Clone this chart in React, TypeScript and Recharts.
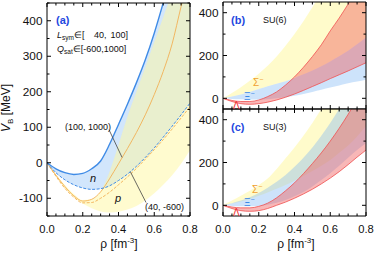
import React from 'react';
import { ComposedChart, Area, Line, XAxis, YAxis, ReferenceLine } from 'recharts';

// ---------- data ----------
const rho = [0, 0.05, 0.1, 0.15, 0.2, 0.25, 0.3, 0.35, 0.4, 0.45, 0.5, 0.55, 0.6, 0.65, 0.7, 0.75, 0.8];

// panel (a): nucleon potentials
const nUpper = [0, -17, -28, -33, -30, -17, 5, 52, 108, 165, 225, 290, 365, 450, 540, 635, 735];
const nLower = [0, -28, -48, -62, -71, -75, -73, -65, -50, -32, -10, 15, 42, 72, 103, 135, 168];
const pUpper = [0, -33, -63, -88, -105, -103, -80, -25, 50, 130, 200, 270, 340, 410, 480, 550, 620];
const pLower = [0, -38, -72, -97, -115, -128, -137, -140, -138, -132, -122, -106, -86, -62, -35, -3, 35];
const pSolid = [0, -35, -67, -93, -108, -103, -82, -45, -3, 40, 85, 135, 192, 257, 335, 440, 540];
const pDash = [0, -38, -72, -97, -113, -112, -100, -83, -62, -40, -16, 10, 37, 65, 95, 126, 158];

// panel (b): SU(6)
const sigUpB = [0, 25, 52, 82, 115, 152, 195, 245, 300, 360, 425, 495, 570, 650, 730, 810, 890];
const xiUpB = [0, 8, 18, 30, 43, 56, 68, 80, 95, 112, 130, 150, 172, 196, 222, 252, 284];
const xiLoB = [0, -3, -5, -6, -6, -4, 0, 5, 12, 20, 30, 40, 50, 60, 70, 78, 87];
const lamUpB = [0, -10, -15, -15, -8, 8, 30, 62, 100, 145, 195, 250, 315, 375, 440, 505, 575];
const lamLoB = [0, -15, -25, -28, -25, -18, -8, 5, 20, 37, 55, 73, 92, 110, 128, 147, 166];

// panel (c): SU(3)
const sigUpC = [0, 22, 45, 68, 95, 125, 170, 220, 270, 325, 385, 450, 520, 600, 680, 760, 840];
const sigLoC = [0, 8, 18, 30, 45, 60, 77, 95, 115, 137, 160, 185, 212, 245, 280, 322, 370];
const xiUpC = [0, 10, 22, 38, 58, 82, 110, 142, 180, 222, 270, 325, 385, 450, 520, 590, 660];
const xiLoC = [0, -3, -5, -5, -3, 3, 12, 25, 42, 62, 88, 118, 150, 185, 222, 258, 290];
const lamUpC = [0, -8, -12, -12, -5, 10, 35, 68, 105, 148, 195, 245, 300, 360, 425, 495, 570];
const lamLoC = [0, -15, -25, -28, -25, -15, 0, 15, 33, 53, 75, 100, 127, 157, 190, 225, 258];

const xTicks = [0, 0.05, 0.1, 0.15, 0.2, 0.25, 0.3, 0.35, 0.4, 0.45, 0.5, 0.55, 0.6, 0.65, 0.7, 0.75, 0.8];
const yTicksA = [-150, -100, -50, 0, 50, 100, 150, 200, 250, 300, 350, 400, 450];
const yTicksBC = [0, 100, 200, 300, 400];

const dataA = rho.map((r, i) => ({
  rho: r,
  nBand: [nLower[i], nUpper[i]],
  pBand: [pLower[i], pUpper[i]],
  nUp: nUpper[i],
  nLo: nLower[i],
  pSolid: pSolid[i],
  pDash: pDash[i],
}));
const dataB = rho.map((r, i) => ({
  rho: r,
  sig: [xiUpB[i], sigUpB[i]],
  xi: [xiLoB[i], xiUpB[i]],
  lam: [lamLoB[i], lamUpB[i]],
  lamUp: lamUpB[i],
  lamLo: lamLoB[i],
}));
const dataC = rho.map((r, i) => ({
  rho: r,
  sig: [sigLoC[i], sigUpC[i]],
  xi: [xiLoC[i], xiUpC[i]],
  lam: [lamLoC[i], lamUpC[i]],
  lamUp: lamUpC[i],
  lamLo: lamLoC[i],
}));

// ---------- layout ----------
const W = 374;
const H = 253;
const FONT = '"Liberation Sans", Arial, Helvetica, sans-serif';
const A = { l: 47, r: 190, t: 3, b: 216 };
const B = { l: 223, r: 366, t: 2, b: 109 };
const C = { l: 223, r: 366, t: 109, b: 216 };
const AX = 2; // axis thickness reserved

const isMajor = (v: number, step: number) => Math.abs(v / step - Math.round(v / step)) < 1e-6;

function xTick(axisY: number, up: boolean, labels: boolean) {
  return (p: any) => {
    const v = p.payload.value;
    const x = p.x;
    const major = isMajor(v, 0.2);
    const len = major ? 4 : 2.5;
    const s = up ? -1 : 1;
    return (
      <g>
        <line x1={x} x2={x} y1={axisY} y2={axisY + s * len} stroke="#000" strokeWidth={1} />
        {labels && major ? (
          <text x={x} y={axisY + 17} textAnchor="middle" fontSize={11.2} fontFamily={FONT} fill="#111">
            {v.toFixed(1)}
          </text>
        ) : null}
      </g>
    );
  };
}

function yTick(axisX: number, right: boolean, labels: boolean, step: number) {
  return (p: any) => {
    const v = p.payload.value;
    const y = p.y;
    const major = isMajor(v, step);
    const len = major ? 4 : 2.5;
    const s = right ? 1 : -1;
    return (
      <g>
        <line x1={axisX} x2={axisX + s * len} y1={y} y2={y} stroke="#000" strokeWidth={1} />
        {labels && major ? (
          <text x={axisX - 4.5} y={y + 4.2} textAnchor="end" fontSize={11.8} fontFamily={FONT} fill="#111">
            {String(v)}
          </text>
        ) : null}
      </g>
    );
  };
}

const chartStyle: React.CSSProperties = { position: 'absolute', left: 0, top: 0 };

function axes(box: { l: number; r: number; t: number; b: number }, domain: [number, number], yTicks: number[], yStep: number, xLabels: boolean) {
  return [
    <XAxis key="xb" xAxisId="bottom" orientation="bottom" dataKey="rho" type="number" domain={[0, 0.8]} allowDataOverflow ticks={xTicks} interval={0} height={AX} tickSize={0} tickMargin={0} tickLine={false} axisLine={{ stroke: '#000' }} tick={xTick(box.b, true, xLabels)} />,
    <XAxis key="xt" xAxisId="top" orientation="top" dataKey="rho" type="number" domain={[0, 0.8]} allowDataOverflow ticks={xTicks} interval={0} height={AX} tickSize={0} tickMargin={0} tickLine={false} axisLine={{ stroke: '#000' }} tick={xTick(box.t, false, false)} />,
    <YAxis key="yl" yAxisId="left" orientation="left" type="number" domain={domain} allowDataOverflow ticks={yTicks} interval={0} width={AX} tickSize={0} tickMargin={0} tickLine={false} axisLine={{ stroke: '#000' }} tick={yTick(box.l, true, true, yStep)} />,
    <YAxis key="yr" yAxisId="right" orientation="right" type="number" domain={domain} allowDataOverflow ticks={yTicks} interval={0} width={AX} tickSize={0} tickMargin={0} tickLine={false} axisLine={{ stroke: '#000' }} tick={yTick(box.r, false, false, yStep)} />,
  ];
}

const margins = (box: { l: number; r: number; t: number; b: number }) => ({
  top: box.t - AX,
  left: box.l - AX,
  right: W - box.r - AX,
  bottom: H - box.b - AX,
});

const BLUE_FILL = '#7cb6f5';
const YEL_FILL = '#fff7a0';
const RED_FILL = '#f06060';
const ids = { xAxisId: 'bottom', yAxisId: 'left' };

export default function App() {
  return (
    <div style={{ position: 'absolute', left: 0, top: 0, width: W, height: H, background: '#fff', overflow: 'hidden' }}>
      {/* Panel (a) */}
      <ComposedChart width={W} height={H} data={dataA} style={chartStyle} margin={margins(A)}>
        {axes(A, [-150, 450], yTicksA, 100, true)}
        <Area {...ids} dataKey="nBand" type="monotone" stroke="none" fill={BLUE_FILL} fillOpacity={0.34} isAnimationActive={false} activeDot={false} />
        <Area {...ids} dataKey="pBand" type="monotone" stroke="none" fill={YEL_FILL} fillOpacity={0.5} isAnimationActive={false} activeDot={false} />
        <Line {...ids} dataKey="pSolid" type="monotone" stroke="#f2b055" strokeWidth={0.9} dot={false} isAnimationActive={false} activeDot={false} />
        <Line {...ids} dataKey="pDash" type="monotone" stroke="#f2b055" strokeWidth={0.9} strokeDasharray="3 1.5" dot={false} isAnimationActive={false} activeDot={false} />
        <Line {...ids} dataKey="nUp" type="monotone" stroke="#3f8be6" strokeWidth={1.4} dot={false} isAnimationActive={false} activeDot={false} />
        <Line {...ids} dataKey="nLo" type="monotone" stroke="#3f8be6" strokeWidth={1} strokeDasharray="3 1.5" dot={false} isAnimationActive={false} activeDot={false} />
        <ReferenceLine {...ids} segment={[{ x: 0.347, y: 93 }, { x: 0.42, y: 15 }]} stroke="#444" strokeWidth={0.8} />
        <ReferenceLine {...ids} segment={[{ x: 0.554, y: -112 }, { x: 0.466, y: -25 }]} stroke="#444" strokeWidth={0.8} />
      </ComposedChart>

      {/* Panel (b) */}
      <ComposedChart width={W} height={H} data={dataB} style={chartStyle} margin={margins(B)}>
        {axes(B, [-50, 450], yTicksBC, 200, false)}
        <Area {...ids} dataKey="sig" type="monotone" stroke="none" fill={YEL_FILL} fillOpacity={0.55} isAnimationActive={false} activeDot={false} />
        <Area {...ids} dataKey="xi" type="monotone" stroke="none" fill={BLUE_FILL} fillOpacity={0.38} isAnimationActive={false} activeDot={false} />
        <Area {...ids} dataKey="lam" type="monotone" stroke="none" fill={RED_FILL} fillOpacity={0.45} isAnimationActive={false} activeDot={false} />
        <Line {...ids} dataKey="lamUp" type="monotone" stroke="#f05050" strokeWidth={0.8} dot={false} isAnimationActive={false} activeDot={false} />
        <Line {...ids} dataKey="lamLo" type="monotone" stroke="#f05050" strokeWidth={0.8} dot={false} isAnimationActive={false} activeDot={false} />
      </ComposedChart>

      {/* Panel (c) */}
      <ComposedChart width={W} height={H} data={dataC} style={chartStyle} margin={margins(C)}>
        {axes(C, [-50, 450], yTicksBC, 200, true)}
        <Area {...ids} dataKey="sig" type="monotone" stroke="none" fill={YEL_FILL} fillOpacity={0.55} isAnimationActive={false} activeDot={false} />
        <Area {...ids} dataKey="xi" type="monotone" stroke="none" fill={BLUE_FILL} fillOpacity={0.38} isAnimationActive={false} activeDot={false} />
        <Area {...ids} dataKey="lam" type="monotone" stroke="none" fill={RED_FILL} fillOpacity={0.45} isAnimationActive={false} activeDot={false} />
        <Line {...ids} dataKey="lamUp" type="monotone" stroke="#f05050" strokeWidth={0.8} dot={false} isAnimationActive={false} activeDot={false} />
        <Line {...ids} dataKey="lamLo" type="monotone" stroke="#f05050" strokeWidth={0.8} dot={false} isAnimationActive={false} activeDot={false} />
      </ComposedChart>

      {/* text overlay */}
      <svg width={W} height={H} style={{ position: 'absolute', left: 0, top: 0, pointerEvents: 'none' }} fontFamily={FONT}>
        <text transform="translate(10,108) rotate(-90)" textAnchor="middle" fontSize={12} fill="#111">
          <tspan fontStyle="italic">V</tspan>
          <tspan fontSize={8} dy={3}>B</tspan>
          <tspan dy={-3}> [MeV]</tspan>
        </text>
        <text x={119} y={248} textAnchor="middle" fontSize={12} fill="#111">
          ρ [fm<tspan fontSize={8} dy={-5}>-3</tspan><tspan dy={5}>]</tspan>
        </text>
        <text x={296} y={248} textAnchor="middle" fontSize={12} fill="#111">
          ρ [fm<tspan fontSize={8} dy={-5}>-3</tspan><tspan dy={5}>]</tspan>
        </text>

        <text x={56} y={24} fontSize={11} fontWeight="bold" fill="#2448e0">(a)</text>
        <text x={57} y={38} fontSize={9} fill="#111">
          <tspan fontStyle="italic">L</tspan><tspan fontSize={6.5} dy={2}>sym</tspan><tspan dy={-2}>∈[</tspan>
        </text>
        <text x={94} y={38} fontSize={9} fill="#111">40,</text>
        <text x={128} y={38} fontSize={9} fill="#111" textAnchor="end">100]</text>
        <text x={57} y={52} fontSize={9} fill="#111">
          <tspan fontStyle="italic">Q</tspan><tspan fontSize={6.5} dy={2}>sat</tspan><tspan dy={-2}>∈[-600,1000]</tspan>
        </text>
        <text x={65} y={129.5} fontSize={9} fill="#111">(100, 1000)</text>
        <text x={145} y={209.5} fontSize={9} fill="#111">(40, -600)</text>
        <text x={90} y={182} fontSize={11} fontStyle="italic" fill="#111">n</text>
        <text x={115} y={202} fontSize={11} fontStyle="italic" fill="#111">p</text>

        <text x={231} y={24} fontSize={11} fontWeight="bold" fill="#2448e0">(b)</text>
        <text x={263} y={22.5} fontSize={9} fill="#111">SU(6)</text>
        <text x={253} y={86} fontSize={10} fill="#f0a030">Σ<tspan fontSize={7} dy={-4}>−</tspan></text>
        <text x={244} y={100} fontSize={10} fill="#3a88e6">Ξ<tspan fontSize={7} dy={-4}>−</tspan></text>
        <text x={233} y={109} fontSize={10} fill="#f03030">Λ</text>

        <text x={231} y={131} fontSize={11} fontWeight="bold" fill="#2448e0">(c)</text>
        <text x={263} y={130} fontSize={9} fill="#111">SU(3)</text>
        <text x={252} y={193} fontSize={10} fill="#f0a030">Σ<tspan fontSize={7} dy={-4}>−</tspan></text>
        <text x={244} y={206} fontSize={10} fill="#3a88e6">Ξ<tspan fontSize={7} dy={-4}>−</tspan></text>
        <text x={233} y={216} fontSize={10} fill="#f03030">Λ</text>
      </svg>
    </div>
  );
}
